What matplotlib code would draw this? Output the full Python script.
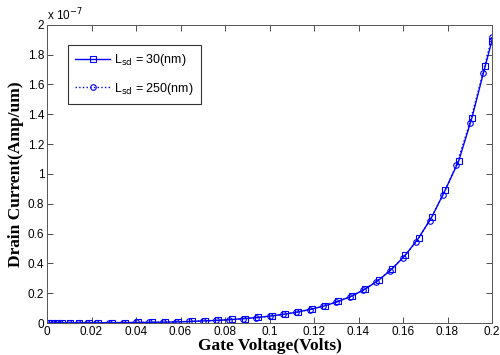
import matplotlib
matplotlib.use("Agg")
import matplotlib.pyplot as plt
from matplotlib.ticker import FixedLocator, FuncFormatter

# Drain current (units of 1e-7 A/um) versus gate voltage (V)
vg_30 = [0.0003, 0.0024, 0.0044, 0.0066, 0.0103, 0.0144, 0.019, 0.023, 0.029,
         0.035, 0.041, 0.047, 0.053, 0.059, 0.065, 0.071, 0.077, 0.083, 0.089,
         0.095, 0.101, 0.107, 0.113, 0.119, 0.125, 0.131, 0.137, 0.143, 0.149,
         0.155, 0.161, 0.167, 0.173, 0.179, 0.185, 0.191, 0.197, 0.2]
id_30 = [0.000, 0.001, 0.001, 0.001, 0.001, 0.002, 0.002, 0.002, 0.003,
         0.003, 0.004, 0.005, 0.006, 0.008, 0.011, 0.015, 0.018, 0.024, 0.030,
         0.038, 0.048, 0.060, 0.075, 0.094, 0.116, 0.146, 0.181, 0.228, 0.287,
         0.362, 0.454, 0.570, 0.713, 0.893, 1.085, 1.378, 1.727, 1.895]

vg_250 = [0.0, 0.003, 0.006, 0.010, 0.014, 0.018, 0.022, 0.028, 0.034, 0.040,
          0.046, 0.052, 0.058, 0.064, 0.070, 0.076, 0.082, 0.088, 0.094, 0.100,
          0.106, 0.112, 0.118, 0.124, 0.130, 0.136, 0.142, 0.148, 0.154, 0.160,
          0.166, 0.172, 0.178, 0.184, 0.190, 0.196, 0.2]
id_250 = [0.000, 0.001, 0.001, 0.001, 0.002, 0.002, 0.002, 0.003, 0.003, 0.004,
          0.005, 0.006, 0.008, 0.011, 0.014, 0.018, 0.023, 0.029, 0.036, 0.046,
          0.058, 0.072, 0.090, 0.112, 0.140, 0.175, 0.220, 0.277, 0.350, 0.438,
          0.546, 0.687, 0.859, 1.060, 1.340, 1.680, 1.920]

x_ticks = [0, 0.02, 0.04, 0.06, 0.08, 0.1, 0.12, 0.14, 0.16, 0.18, 0.2]
y_ticks = [0, 0.2, 0.4, 0.6, 0.8, 1.0, 1.2, 1.4, 1.6, 1.8, 2.0]

plt.rcParams['font.family'] = ['Liberation Sans', 'DejaVu Sans']

fig = plt.figure(figsize=(5.0, 3.55), dpi=100)
ax = fig.add_axes([0.094, 0.090, 0.890, 0.840])

ax.plot(vg_30, id_30, color='blue', linestyle='-', linewidth=1.0,
        marker='s', markersize=4.5, markerfacecolor='none',
        markeredgecolor='blue', markeredgewidth=0.8,
        label=r'L$_{\rm sd}$ = 30(nm)')
ax.plot(vg_250, id_250, color='blue', linestyle=':', linewidth=1.0,
        marker='o', markersize=4.0, markerfacecolor='none',
        markeredgecolor='blue', markeredgewidth=0.8,
        label=r'L$_{\rm sd}$ = 250(nm)')

ax.set_xlim(0, 0.2)
ax.set_ylim(0, 2.0)
ax.xaxis.set_major_locator(FixedLocator(x_ticks))
ax.yaxis.set_major_locator(FixedLocator(y_ticks))
ax.xaxis.set_major_formatter(FuncFormatter(lambda v, p: f"{v:g}"))
ax.yaxis.set_major_formatter(FuncFormatter(lambda v, p: f"{v:g}"))

ax.tick_params(direction='in', length=4, width=0.6, top=True, right=True,
               labelsize=8.5, pad=2, colors='#333333', labelcolor='black')
for s in ax.spines.values():
    s.set_linewidth(0.7)
    s.set_color('#555555')

ax.set_xlabel('Gate Voltage(Volts)', family='Liberation Serif',
              fontweight='bold', fontsize=12.5, labelpad=0)
ax.set_ylabel('Drain Current(Amp/um)', family='Liberation Serif',
              fontweight='bold', fontsize=12.5, labelpad=3)

ax.text(0.0, 1.005, r'x 10$^{-7}$', transform=ax.transAxes,
        fontsize=8.5, ha='left', va='bottom')

leg = ax.legend(loc='upper left', bbox_to_anchor=(0.047, 0.933),
                fontsize=9, frameon=True, fancybox=False, handlelength=2.8,
                borderpad=0.6, labelspacing=1.0, handletextpad=0.3,
                borderaxespad=0)
leg.get_frame().set_edgecolor('black')
leg.get_frame().set_linewidth(0.8)

fig.savefig('out.png', dpi=100)
